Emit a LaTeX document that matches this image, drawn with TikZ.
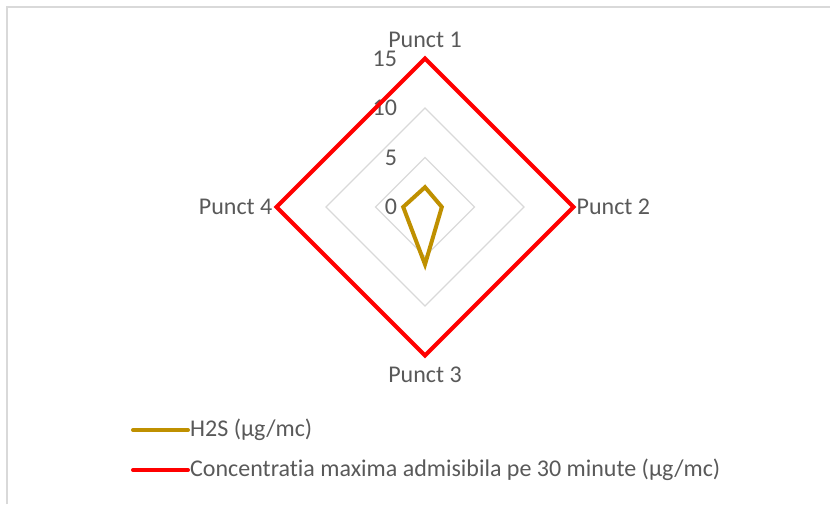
\documentclass[tikz,border=0pt]{standalone}
\usepackage{fontspec}
\setmainfont{Carlito}[Ligatures=NoCommon]
\usepackage{tikz}
\usetikzlibrary{positioning}

\definecolor{gridgray}{HTML}{D9D9D9}
\definecolor{labelgray}{HTML}{595959}
\definecolor{hgold}{HTML}{BF9000}

\begin{document}
\begin{tikzpicture}[x=1pt, y=1pt,
    lbl/.style={text=labelgray, font=\fontsize{24}{28}\selectfont, inner sep=1pt},
    series/.style={line width=4pt, line join=miter}]
    \useasboundingbox (0,0) rectangle (830,504);

    % Chart frame
    \draw[gridgray, line width=1.5pt] (7,0) -- (7,497) -- (830,497);

    \begin{scope}[shift={(425,297)}, x=9.9pt, y=9.9pt]
        % Grid rings
        \foreach \r in {5,10,15}
            \draw[gridgray, line width=1.2pt] (0,\r) -- (\r,0) -- (0,-\r) -- (-\r,0) -- cycle;

        % Axis values
        \foreach \v in {0,5,10,15}
            \node[lbl, anchor=east] (val\v) at (-2.7,\v) {\v};

        % Concentratia maxima admisibila
        \coordinate (p1) at (0,15);
        \coordinate (p2) at (15,0);
        \coordinate (p3) at (0,-15);
        \coordinate (p4) at (-15,0);
        \draw[red, series] (p1) -- (p2) -- (p3) -- (p4) -- cycle;

        % H2S
        \draw[hgold, series] (0,2) -- (1.7,0) -- (0,-5.8) -- (-2.2,0) -- cycle;

        % Axis names
        \node[lbl, above=10pt of p1] (punct1) {Punct 1};
        \node[lbl, right=2pt of p2] (punct2) {Punct 2};
        \node[lbl, below=10pt of p3] (punct3) {Punct 3};
        \node[lbl, left=3pt of p4] (punct4) {Punct 4};
    \end{scope}

    % Legend
    \coordinate (h2sA) at (133,74);
    \coordinate (h2sB) at (188,74);
    \draw[hgold, line width=4pt, line cap=round] (h2sA) -- (h2sB);
    \node[lbl, right=1pt of h2sB] (h2sTxt) {H2S (µg/mc)};

    \coordinate (cmaA) at (133,34);
    \coordinate (cmaB) at (188,34);
    \draw[red, line width=4pt, line cap=round] (cmaA) -- (cmaB);
    \node[lbl, right=1pt of cmaB] (cmaTxt) {Concentratia maxima admisibila pe 30 minute (µg/mc)};
\end{tikzpicture}
\end{document}
